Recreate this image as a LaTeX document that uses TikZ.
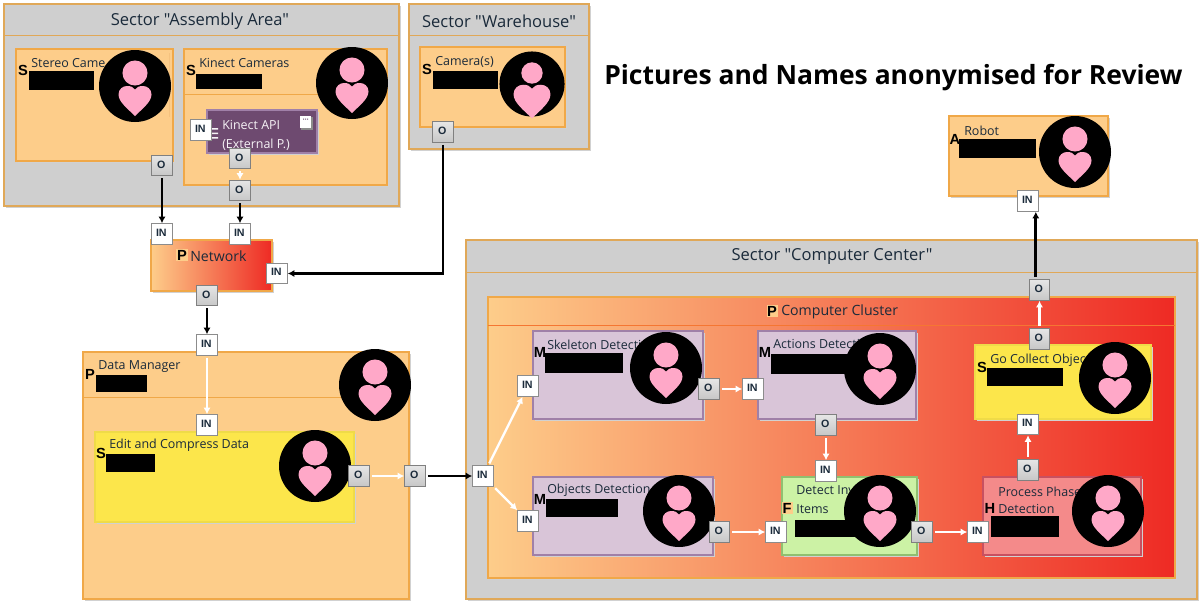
\documentclass[tikz,border=0pt]{standalone}
\usepackage{fontspec}
\setmainfont{Open Sans}
\newfontfamily\lab{Liberation Sans}
\newfontfamily\plainsec{Open Sans}
\usetikzlibrary{arrows.meta,shadows}
\definecolor{org}{HTML}{FDCD8A}
\definecolor{orgb}{HTML}{F0A848}
\definecolor{sec}{HTML}{CFCFCF}
\definecolor{secb}{HTML}{E0A858}
\definecolor{pur}{HTML}{D9C5D8}
\definecolor{purb}{HTML}{A080A8}
\definecolor{grn}{HTML}{CCF2A5}
\definecolor{grnb}{HTML}{90C070}
\definecolor{yel}{HTML}{FCE64B}
\definecolor{yelb}{HTML}{EFDB48}
\definecolor{pha}{HTML}{F48A8A}
\definecolor{phab}{HTML}{C85060}
\definecolor{api}{HTML}{6E4A70}
\definecolor{redg}{HTML}{EE2A24}
\definecolor{pnk}{HTML}{FFA8C8}
\definecolor{ink}{HTML}{1A2A3A}
\tikzset{
  x=0.75pt,y=-0.75pt,
  shad/.style={general shadow={shadow xshift=1.5pt,shadow yshift=-1.5pt,fill=black!18}},
  secbox/.style={fill=sec,draw=secb,line width=0.8pt,shad},
  orgbox/.style={fill=org,draw=orgb,line width=0.8pt,shad},
  gradbox/.style={left color=org,right color=redg,draw=orgb,line width=0.8pt,shad},
  purbox/.style={fill=pur,draw=purb,line width=0.8pt,shad},
  grnbox/.style={fill=grn,draw=grnb,line width=0.8pt,shad},
  yelbox/.style={fill=yel,draw=yelb,line width=0.8pt,shad},
  phabox/.style={fill=pha,draw=phab,line width=0.8pt,shad},
  apibox/.style={fill=api,draw=purb,line width=0.8pt,shad},
  portin/.style={fill=white,draw=black!45,line width=0.7pt,minimum size=15.5pt,inner sep=0pt,font=\lab\bfseries\fontsize{8}{8}\selectfont,text=ink},
  portout/.style={top color=black!10,bottom color=black!22,draw=black!50,line width=0.7pt,minimum size=15.5pt,inner sep=0pt,font=\lab\bfseries\fontsize{8}{8}\selectfont,text=ink},
  wireb/.style={black,line width=2.1pt,-{Latex[length=5pt,width=5.5pt]},shorten <=1.5pt},
  wirew/.style={white,line width=1.8pt,-{Latex[length=5pt,width=5.5pt]},shorten <=1.5pt},
  sectitle/.style={font=\plainsec\fontsize{12.4}{12.4}\selectfont,text=ink,inner sep=0pt,yshift=-0.7pt},
  txt/.style={anchor=west,font=\fontsize{9.35}{9.35}\selectfont,text=ink,inner sep=0pt,yshift=-1.1pt},
  big/.style={anchor=west,font=\fontsize{10.6}{10.6}\selectfont,text=ink,inner sep=0pt,yshift=-0.7pt},
  tag/.style={font=\lab\bfseries\fontsize{11}{11}\selectfont,text=black,inner sep=0pt},
  hdr/.style={line width=0.6pt},
  bar/.style={fill=black}
}
\newcommand{\mybox}[6]{%
  \pgfmathsetmacro\cxx{(#3+#5)/2}\pgfmathsetmacro\cyy{(#4+#6)/2}%
  \pgfmathsetmacro\bww{(#5-#3)*0.75}\pgfmathsetmacro\bhh{(#6-#4)*0.75}%
  \node[#2,minimum width=\bww pt,minimum height=\bhh pt,inner sep=0pt,outer sep=0pt] (#1) at (\cxx,\cyy) {};}
\newcommand{\hearts}{%
    \fill[pnk] (0,30) .. controls (-7,23) and (-16.5,16) .. (-16.5,8.5)
      .. controls (-16.5,3) and (-12,0) .. (-8,0)
      .. controls (-4,0) and (-2,1) .. (0,3.5)
      .. controls (2,1) and (4,0) .. (8,0)
      .. controls (12,0) and (16.5,3) .. (16.5,8.5)
      .. controls (16.5,16) and (7,23) .. (0,30) -- cycle;}
\newcommand{\avatar}[2]{%
  \begin{scope}[shift={(#1,#2)}]
    \fill[black] (0,0) circle [radius=27pt];
    \fill[pnk] (0,-13) circle [radius=9.4pt];
    \hearts
  \end{scope}}
\newcommand{\avatarsmall}[2]{%
  \begin{scope}[shift={(#1,#2)}]
    \fill[black] (0,0) circle [radius=24.4pt];
    \fill[pnk] (0,-11) circle [radius=8pt];
    \begin{scope}[scale=1.12,yshift=-0.5pt]\hearts\end{scope}
  \end{scope}}
\newcommand{\pin}[3]{\node[portin] (#1) at (#2,#3) {\raisebox{1.8pt}{IN\hspace{1pt}}};}
\newcommand{\pout}[3]{\node[portout] (#1) at (#2,#3) {\raisebox{1.8pt}{O\hspace{1pt}}};}
\begin{document}
\begin{tikzpicture}
\useasboundingbox[fill=white] (0,0) rectangle (1203,607);
% sectors
\mybox{sa}{secbox}{4}{4}{399}{206}
\draw[secb,hdr] (4,35) -- (399,35);
\node[sectitle] (saT) at (200,20) {Sector "Assembly Area"};
\mybox{sw}{secbox}{409}{4}{589}{149}
\draw[secb,hdr] (409,35) -- (589,35);
\node[sectitle] (swT) at (499,20) {Sector "Warehouse"};
\mybox{sc}{secbox}{466}{240}{1197}{599}
\draw[secb,hdr] (466,272) -- (1197,272);
\node[sectitle] (scT) at (832,256) {Sector "Computer Center"};
\node[anchor=west,font=\bfseries\fontsize{19.85}{19.85}\selectfont,text=black,inner sep=0pt,yshift=-1.8pt] (ttl) at (604,75) {Pictures and Names anonymised for Review};
% assembly
\mybox{st}{orgbox}{16}{49}{173}{161}
\draw[orgb!70,hdr] (169,53) -- (169,117);
\node[txt] (stT) at (31,62) {Stereo Came};
\node[tag] (stS) at (23,70) {S};
\fill[bar] (29,71) rectangle (94,90);
\avatar{135}{86}
\mybox{ki}{orgbox}{184}{49}{387}{185}
\draw[orgb,hdr] (184,94) -- (387,94);
\node[txt] (kiT) at (199,62) {Kinect Cameras};
\node[tag] (kiS) at (191,70) {S};
\fill[bar] (196,74) rectangle (262,89);
\avatar{352}{83}
\mybox{ap}{apibox}{207}{110}{317}{153}
\node[txt,text=white!90!purb] (apT1) at (222,124) {Kinect API};
\node[txt,text=white!90!purb] (apT2) at (222,143) {(External P.)};
\fill[black!45] (301,117) rectangle (313,130);
\fill[white] (300,116) rectangle (311,128);
\fill[api] (303,118.5) rectangle (304,119.5) (305,118.5) rectangle (306,119.5) (307,118.5) rectangle (308,119.5);
\fill[white!90!purb] (212,128) rectangle (218,129.5) (212,132.5) rectangle (218,134) (212,137) rectangle (218,138.5);
% warehouse
\mybox{ca}{orgbox}{420}{47}{565}{127}
\node[txt] (caT) at (435,61) {Camera(s)};
\node[tag] (caS) at (427,69) {S};
\fill[bar] (433,71) rectangle (498,89);
\avatarsmall{532}{84}
% network
\mybox{ne}{gradbox}{151}{240}{272}{291}
\fill[org] (176,249) rectangle (188,261);
\node[tag] (neP) at (182,255) {P};
\node[big] (neT) at (190,255) {Network};
% data manager
\mybox{dm}{orgbox}{83}{352}{409}{599}
\draw[orgb,hdr] (83,397) -- (409,397);
\node[txt] (dmT) at (98,365) {Data Manager};
\node[tag] (dmP) at (90,374) {P};
\fill[bar] (96,375) rectangle (147,392);
\avatar{375}{385}
\mybox{ed}{yelbox}{95}{432}{354}{522}
\node[txt] (edT) at (109,444) {Edit and Compress Data};
\node[tag] (edS) at (101,453) {S};
\fill[bar] (106,454) rectangle (155,472);
\avatar{315}{466}
% robot
\mybox{ro}{orgbox}{949}{116}{1108}{196}
\node[txt] (roT) at (964,129) {Robot};
\node[tag] (roA) at (955,139) {A};
\fill[bar] (959,139) rectangle (1036,158);
\avatar{1075}{152}
% cluster
\mybox{cl}{gradbox}{488}{297}{1175}{578}
\draw[orgb!70!red,hdr] (488,325) -- (1175,325);
\fill[org] (767,305) rectangle (778,317);
\node[tag] (clP) at (772,311) {P};
\node[big] (clT) at (781,311) {Computer Cluster};
\mybox{sk}{purbox}{533}{331}{703}{419}
\node[txt] (skT) at (547,343) {Skeleton Detecti};
\node[tag] (skM) at (540,352) {M};
\fill[bar] (545,353) rectangle (623,373);
\avatar{666}{368}
\mybox{ac}{purbox}{758}{331}{916}{419}
\node[txt] (acT) at (773,343) {Actions Detecti};
\node[tag] (acM) at (765,352) {M};
\fill[bar] (771,354) rectangle (860,374);
\avatar{880}{369}
\mybox{ob}{purbox}{533}{477}{713}{555}
\node[txt] (obT) at (547,489) {Objects Detection};
\node[tag] (obM) at (540,499) {M};
\fill[bar] (546,499) rectangle (618,517);
\avatar{679}{511}
\mybox{de}{grnbox}{782}{477}{917}{555}
\node[txt] (deT1) at (796,489) {Detect Inv};
\node[txt] (deT2) at (796,508) {Items};
\fill[org] (782,502) rectangle (793,514);
\node[tag] (deF) at (787,508) {F};
\fill[bar] (795,520) rectangle (860,537);
\avatar{880}{511}
\mybox{ph}{phabox}{983}{477}{1141}{555}
\node[txt] (phT1) at (998,490) {Process Phase};
\node[txt] (phT2) at (998,508) {Detection};
\node[tag] (phH) at (990,508) {H};
\fill[bar] (991,516) rectangle (1059,537);
\avatar{1108}{511}
\mybox{go}{yelbox}{975}{345}{1151}{419}
\node[txt] (goT) at (990,359) {Go Collect Objec};
\node[tag] (goS) at (982,367) {S};
\fill[bar] (987,368) rectangle (1063,386);
\avatar{1115}{378}
% ports
\pin{pApi}{201}{130}
\pout{oStereo}{162}{165.5}
\pout{oApi}{240}{158.5}
\pout{oKin}{240}{190.5}
\pin{iNa}{162}{234}
\pin{iNb}{240}{234}
\pin{iNc}{277}{273.5}
\pout{oCam}{443}{132}
\pout{oNet}{207}{295.5}
\pin{iDm}{207}{345}
\pin{iEd}{207}{425}
\pout{oEd}{359}{476}
\pout{oDm}{415}{476}
\pin{iCl}{483}{476}
\pin{iSk}{528}{386}
\pin{iOb}{528}{521}
\pout{oSk}{709}{389}
\pin{iAc}{753}{389}
\pout{oAc}{826}{425}
\pin{iDe}{826}{471}
\pout{oOb}{719.5}{532}
\pin{iDe2}{776}{532}
\pout{oDe}{922}{532}
\pin{iPh}{978}{532}
\pout{oPh}{1028}{470}
\pin{iGo}{1028}{424.5}
\pout{oGo}{1039.5}{339}
\pout{oCl}{1039.5}{290}
\pin{iRo}{1028}{201}
% connectors
\draw[wireb] (oStereo) -- (iNa);
\draw[wireb] (oKin) -- (iNb);
\draw[wireb] (oCam) |- (iNc);
\draw[wireb] (oNet) -- (iDm);
\draw[wireb] (oDm) -- (iCl);
\draw[wireb] (oCl.north -| iRo.south east) ++(-3,0) coordinate (cRo) (cRo) -- (cRo |- iRo.south);
\draw[wirew] (oApi) -- (oKin);
\draw[wirew] (iDm) -- (iEd);
\draw[wirew] (oEd) -- (oDm);
\draw[wirew] (iCl) -- (iSk);
\draw[wirew] (iCl) -- (iOb);
\draw[wirew] (oSk) -- (iAc);
\draw[wirew] (oAc) -- (iDe);
\draw[wirew] (oOb) -- (iDe2);
\draw[wirew] (oDe) -- (iPh);
\draw[wirew] (oPh) -- (iGo);
\draw[wirew] (oGo) -- (oCl);
\end{tikzpicture}
\end{document}
